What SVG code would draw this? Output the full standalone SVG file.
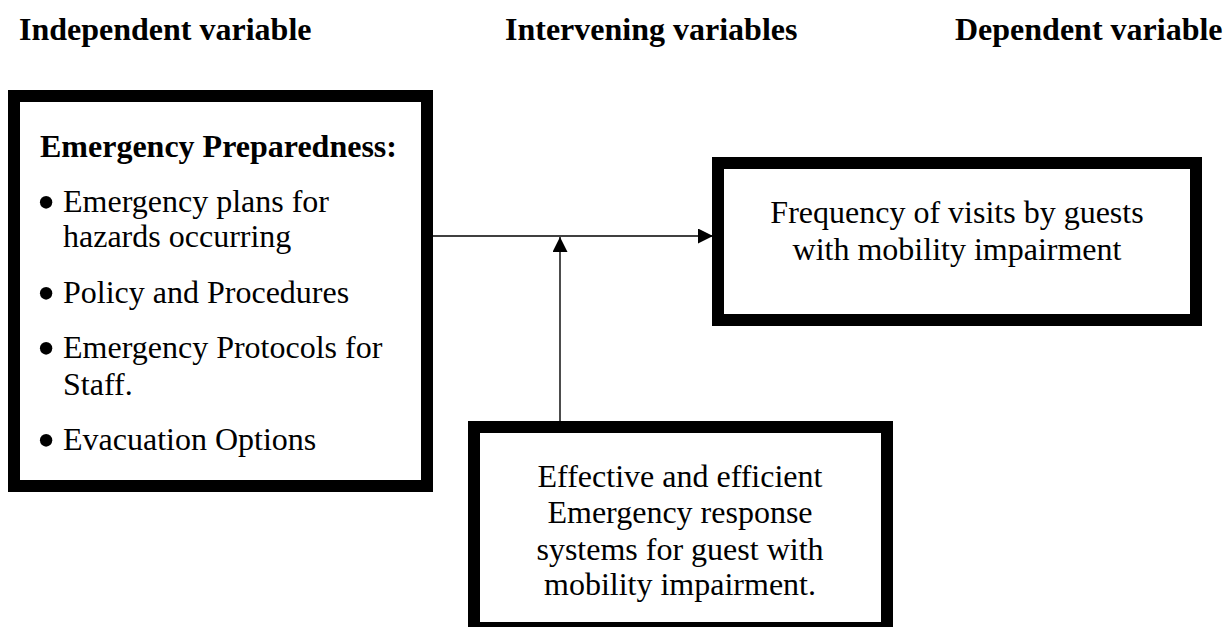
<svg xmlns="http://www.w3.org/2000/svg" width="1225" height="627" viewBox="0 0 1225 627">
  <style>
    .box { fill: #ffffff; stroke: #000000; stroke-width: 12; }
    .hdr { font-family: "Liberation Serif", "Times New Roman", serif; font-size: 32px; font-weight: bold; fill: #000; }
    .txt { font-family: "Liberation Serif", "Times New Roman", serif; font-size: 32px; fill: #000; }
    .ctr { text-anchor: middle; }
    .conn { stroke: #000; stroke-width: 1.4; fill: none; }
    .bul { font-family: "Liberation Serif", "Times New Roman", serif; font-size: 52px; fill: #000; }
  </style>
  <defs>
    <marker id="arrow" viewBox="0 0 15 15" refX="15" refY="7.5" markerWidth="15" markerHeight="15" markerUnits="userSpaceOnUse" orient="auto">
      <path d="M0,0 L15,7.5 L0,15 Z" fill="#000"/>
    </marker>
  </defs>
  <rect width="1225" height="627" fill="#ffffff"/>

  <g id="headers">
    <text class="hdr" x="19" y="40">Independent variable</text>
    <text class="hdr" x="505" y="40">Intervening variables</text>
    <text class="hdr" x="955" y="40">Dependent variable</text>
  </g>

  <g id="connectors">
    <line class="conn" x1="433" y1="236" x2="713" y2="236" marker-end="url(#arrow)"/>
    <line class="conn" x1="560" y1="421" x2="560" y2="237" marker-end="url(#arrow)"/>
  </g>

  <g id="node-independent">
    <rect class="box" x="14" y="96" width="413" height="390"/>
    <text class="hdr" x="40" y="157">Emergency Preparedness:</text>
    <text class="bul" x="37" y="220">•</text>
    <text class="txt" x="63" y="212">Emergency plans for</text>
    <text class="txt" x="63" y="247">hazards occurring</text>
    <text class="bul" x="37" y="311">•</text>
    <text class="txt" x="63" y="303">Policy and Procedures</text>
    <text class="bul" x="37" y="366">•</text>
    <text class="txt" x="63" y="358">Emergency Protocols for</text>
    <text class="txt" x="63" y="395">Staff.</text>
    <text class="bul" x="37" y="458">•</text>
    <text class="txt" x="63" y="450">Evacuation Options</text>
  </g>

  <g id="node-dependent">
    <rect class="box" x="718" y="163" width="478" height="157"/>
    <text class="txt ctr" x="957" y="223">Frequency of visits by guests</text>
    <text class="txt ctr" x="957" y="260">with mobility impairment</text>
  </g>

  <g id="node-intervening">
    <rect class="box" x="474" y="427" width="413" height="201"/>
    <text class="txt ctr" x="680" y="487">Effective and efficient</text>
    <text class="txt ctr" x="680" y="523">Emergency response</text>
    <text class="txt ctr" x="680" y="560">systems for guest with</text>
    <text class="txt ctr" x="680" y="595">mobility impairment.</text>
  </g>
</svg>
